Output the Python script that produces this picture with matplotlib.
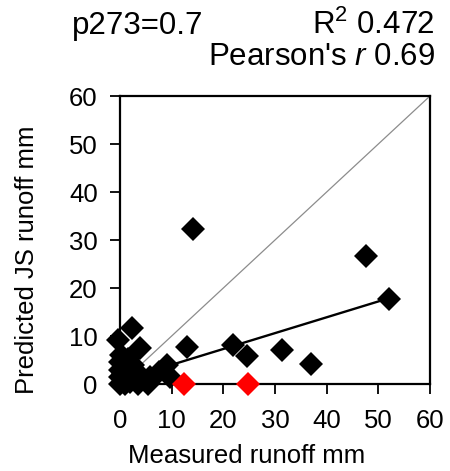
import matplotlib
matplotlib.use("Agg")
import matplotlib.pyplot as plt
import numpy as np

plt.rcParams['font.family'] = ['Liberation Sans', 'DejaVu Sans']
plt.rcParams['mathtext.fontset'] = 'custom'
plt.rcParams['mathtext.rm'] = 'Liberation Sans'
plt.rcParams['mathtext.it'] = 'Liberation Sans:italic'

# Measured vs predicted runoff (mm)
black_x = [14.2, 47.6, 52.1, 31.4, 37.0, 21.9, 24.5, 12.9, 2.3, -0.3, 3.9, 9.0,
           9.7, 5.8, 5.5, 0.0, 0.0, 0.0, 0.0, 0.2, 1.0, 1.0, 1.0, 1.5, 2.0,
           2.0, 2.5, 3.0, 3.0, 3.5, 4.0, 0.5, 1.5, 0.5, 2.0, 1.5, 0.5, 7.5]
black_y = [32.3, 26.6, 17.8, 7.1, 4.1, 8.2, 5.8, 7.8, 11.6, 9.2, 7.5, 4.0,
           1.5, 1.5, 0.0, 0.0, 1.5, 3.0, 4.5, 6.0, 0.0, 2.0, 4.0, 5.3, 0.5,
           2.5, 4.0, 1.0, 2.8, 0.0, 1.5, 1.0, 3.0, 2.2, 1.5, 0.8, 5.0, 2.5]
red_x = [12.3, 24.8]
red_y = [0.0, 0.0]

fit_slope = 0.33
fit_intercept = 0.7
one_to_one = [0, 60]

x_ticks = [0, 10, 20, 30, 40, 50, 60]
y_ticks = [0, 10, 20, 30, 40, 50, 60]

title_left = "p273=0.7"
title_r2 = "R$^2$ 0.472"
title_r = "Pearson's $r$ 0.69"
x_label = "Measured runoff mm"
y_label = "Predicted JS runoff mm"

fig = plt.figure(figsize=(4.5, 4.71), dpi=100)
W, H = 450, 471
ax = fig.add_axes([120 / W, 1 - 384 / H, 310 / W, 288 / H])

ax.plot(one_to_one, one_to_one, color='#8c8c8c', lw=0.9, zorder=1)
fx = np.array([min(black_x), max(black_x)])
ax.plot(fx, fit_slope * fx + fit_intercept, color='black', lw=1.7, zorder=2)
ax.plot(black_x, black_y, 'D', color='black', ms=12, mew=0, ls='none',
        zorder=3, clip_on=False)
ax.plot(red_x, red_y, 'D', color='#ff0000', ms=12, mew=0, ls='none',
        zorder=4, clip_on=False)

ax.set_xlim(0, 60)
ax.set_ylim(0, 60)
ax.set_xticks(x_ticks)
ax.set_yticks(y_ticks)
ax.tick_params(direction='out', length=7, width=1.3, labelsize=18.5, pad=9,
               colors='black')
ax.tick_params(axis='x', pad=11)
for s in ax.spines.values():
    s.set_linewidth(1.6)

fig.text(247 / W, 1 - 463 / H, x_label, ha='center', va='baseline', fontsize=18.5)
fig.text(27 / W, 1 - 260 / H, y_label, ha='center', va='center', rotation=90,
         fontsize=18.5)
fig.text(72 / W, 1 - 34 / H, title_left, ha='left', va='baseline', fontsize=22.5)
fig.text(435 / W, 1 - 34 / H, title_r2, ha='right', va='baseline', fontsize=22.5)
fig.text(435 / W, 1 - 65 / H, title_r, ha='right', va='baseline', fontsize=22.5)

fig.savefig('out.png', dpi=100)
